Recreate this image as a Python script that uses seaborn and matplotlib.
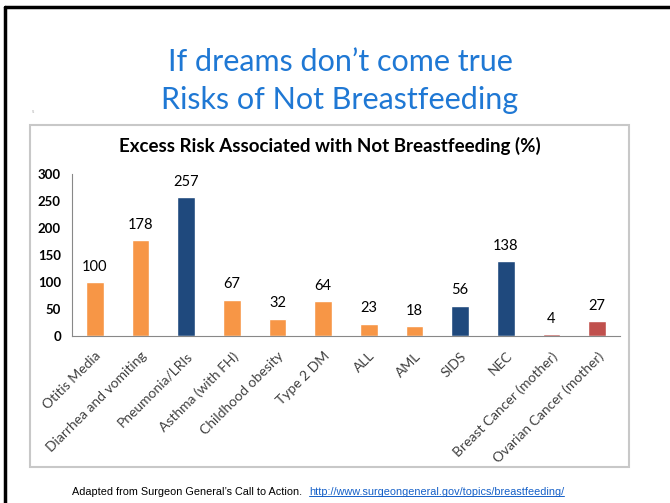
import matplotlib
matplotlib.use("Agg")
import matplotlib.pyplot as plt
from matplotlib.lines import Line2D
from matplotlib.patches import Rectangle
import seaborn as sns
import pandas as pd

categories = ["Otitis Media", "Diarrhea and vomiting", "Pneumonia/LRIs", "Asthma (with FH)",
              "Childhood obesity", "Type 2 DM", "ALL", "AML", "SIDS", "NEC",
              "Breast Cancer (mother)", "Ovarian Cancer (mother)"]
values = [100, 178, 257, 67, 32, 64, 23, 18, 56, 138, 4, 27]
groups = ["orange", "orange", "navy", "orange", "orange", "orange", "orange", "orange",
          "navy", "navy", "red", "red"]
yticks = [0, 50, 100, 150, 200, 250, 300]

palette = {"orange": "#F79646", "navy": "#1F497D", "red": "#C0504D"}

sns.set_style("white")
plt.rcParams["font.family"] = ["Lato", "DejaVu Sans"]

W, H = 670, 503
fig = plt.figure(figsize=(W / 100, H / 100), dpi=100)


def fx(x):
    return x / W


def fy(y):
    return 1 - y / H


ax = fig.add_axes([fx(72), fy(336), fx(620) - fx(72), fy(174) - fy(336)])

df = pd.DataFrame({"cat": categories, "val": values, "grp": groups})
sns.barplot(data=df, x="cat", y="val", hue="grp", palette=palette, dodge=False,
            width=0.38, legend=False, ax=ax, saturation=1)

ax.set_xlim(-0.5, len(categories) - 0.5)
ax.set_ylim(0, 300)
ax.set_yticks(yticks)
ax.set_yticklabels([str(v) for v in yticks], fontsize=9.5, fontweight="bold", color="#000000")
ax.set_xlabel("")
ax.set_ylabel("")

ax.set_xticks(range(len(categories)))
ax.set_xticklabels(categories, rotation=45, ha="right", rotation_mode="anchor",
                   fontsize=10, color="#404040")
ax.tick_params(axis="x", which="major", length=0, pad=10)
ax.set_xticks([i + 0.5 for i in range(-1, len(categories))], minor=True)
ax.tick_params(axis="x", which="minor", length=5, width=0.8, color="#888888", direction="out")
ax.tick_params(axis="y", which="major", length=5, width=0.8, color="#888888", direction="out", pad=3)

for s in ["top", "right"]:
    ax.spines[s].set_visible(False)
for s in ["left", "bottom"]:
    ax.spines[s].set_color("#888888")
    ax.spines[s].set_linewidth(0.8)

for i, v in enumerate(values):
    ax.annotate(str(v), (i, v), xytext=(0, 6), textcoords="offset points",
                ha="center", va="bottom", fontsize=10.5, color="#000000")

# chart box
fig.add_artist(Rectangle((fx(30), fy(467)), fx(629) - fx(30), fy(125) - fy(467),
                         transform=fig.transFigure, fill=False, edgecolor="#C8C8C8", linewidth=1.5))

# chart title
fig.text(fx(330), fy(146), "Excess Risk Associated with Not Breastfeeding (%)",
         ha="center", va="center", fontsize=13.5, fontweight="bold", color="#000000")

# slide title
fig.text(fx(340), fy(62), "If dreams don\u2019t come true", ha="center", va="center",
         fontsize=22, fontweight="normal", color="#1F78D4")
fig.text(fx(340), fy(100), "Risks of Not Breastfeeding", ha="center", va="center",
         fontsize=22, fontweight="normal", color="#1F78D4")
fig.text(fx(33), fy(112), "5", ha="center", va="center", fontsize=3, color="#999999")

# slide border
fig.add_artist(Line2D([fx(5), fx(5)], [fy(7), 0], transform=fig.transFigure, color="black", linewidth=2.5))
fig.add_artist(Line2D([fx(5), 1], [fy(7), fy(7)], transform=fig.transFigure, color="black", linewidth=2.5))

# footer
foot = fig.text(fx(72), fy(492), "Adapted from Surgeon General\u2019s Call to Action.",
                ha="left", va="center", fontsize=7.8, family=["Liberation Sans", "DejaVu Sans"],
                color="#000000")
fig.canvas.draw()
fb = foot.get_window_extent().transformed(fig.transFigure.inverted())
link = fig.text(fb.x1 + fx(7), fy(492), "http://www.surgeongeneral.gov/topics/breastfeeding/",
                ha="left", va="center", fontsize=7.8, family=["Liberation Sans", "DejaVu Sans"],
                color="#1560C8")
fig.canvas.draw()
bb = link.get_window_extent().transformed(fig.transFigure.inverted())
fig.add_artist(Line2D([bb.x0, bb.x1], [bb.y0 + 0.002, bb.y0 + 0.002], transform=fig.transFigure,
                      color="#1560C8", linewidth=0.7))

fig.savefig("out.png", dpi=100)
